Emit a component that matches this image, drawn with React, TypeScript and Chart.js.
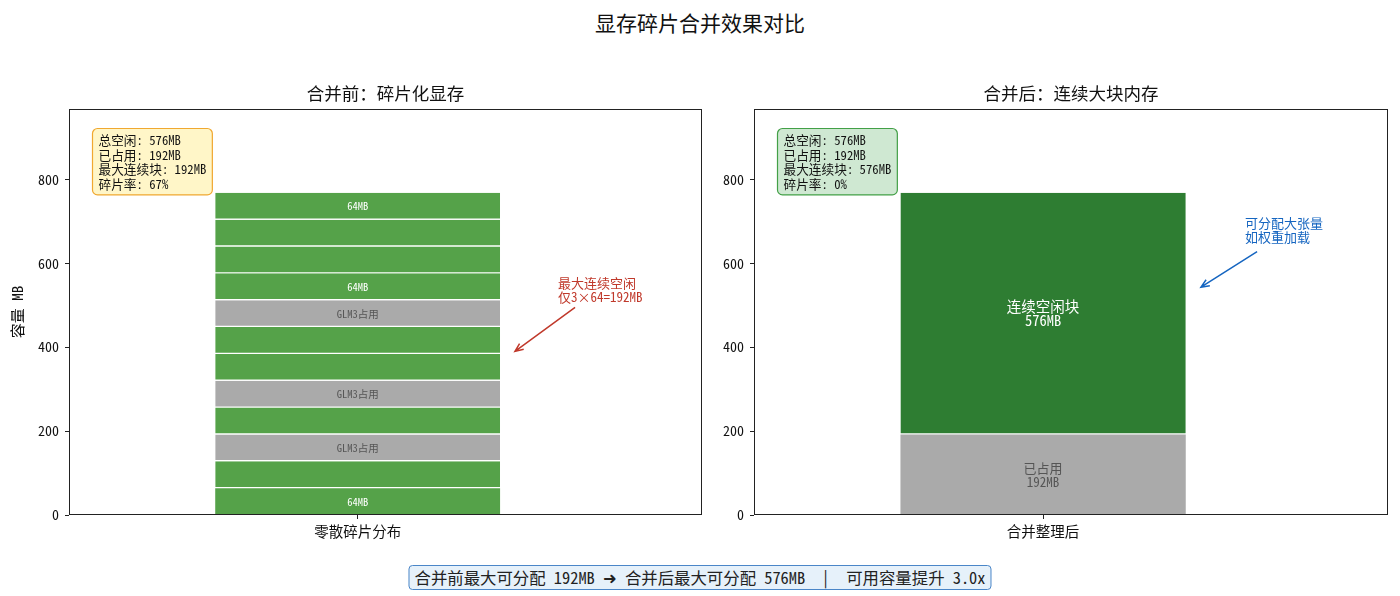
import React, { useEffect, useRef } from 'react';
import { Chart, registerables } from 'chart.js';

Chart.register(...registerables);

const FONT = '"Noto Sans Mono CJK SC", "Noto Sans CJK SC", "Noto Sans", "DejaVu Sans", sans-serif';

// ---------- data ----------
const TITLE = '显存碎片合并效果对比';
const LEFT_TITLE = '合并前：碎片化显存';
const RIGHT_TITLE = '合并后：连续大块内存';
const Y_LABEL = '容量 MB';
const Y_TICKS = [0, 200, 400, 600, 800];
const Y_MAX = 967.68;
const X_MIN = -0.912;
const X_MAX = 1.088;
const BAR_WIDTH = 0.9;

const leftCategory = '零散碎片分布';
const leftBlockSizes = [64, 64, 64, 64, 64, 64, 64, 64, 64, 64, 64, 64];
const leftBlockKinds = ['free', 'free', 'used', 'free', 'used', 'free', 'free', 'used', 'free', 'free', 'free', 'free'];
const leftBlockLabels = ['64MB', '', 'GLM3占用', '', 'GLM3占用', '', '', 'GLM3占用', '64MB', '', '', '64MB'];
const leftStats = ['总空闲: 576MB', '已占用: 192MB', '最大连续块: 192MB', '碎片率: 67%'];
const leftNote = ['最大连续空闲', '仅3×64=192MB'];

const rightCategory = '合并整理后';
const rightSegments = [192, 576];
const rightKinds = ['used', 'bigfree'];
const rightSegmentLabels = [['已占用', '192MB'], ['连续空闲块', '576MB']];
const rightStats = ['总空闲: 576MB', '已占用: 192MB', '最大连续块: 576MB', '碎片率: 0%'];
const rightNote = ['可分配大张量', '如权重加载'];

const FOOTER = '合并前最大可分配 192MB ➜ 合并后最大可分配 576MB  |  可用容量提升 3.0x';

// ---------- styles ----------
const KIND_COLOR: Record<string, string> = { free: '#55A249', used: '#AAAAAA', bigfree: '#2E7D32' };
const KIND_TEXT: Record<string, string> = { free: '#FFFFFF', used: '#555555', bigfree: '#FFFFFF' };

type Note = { lines: string[]; color: string; text: [number, number]; tail: [number, number]; tip: [number, number] };
type PanelSpec = {
  title: string;
  category: string;
  sizes: number[];
  kinds: string[];
  labels: string[][];
  labelFont: number[];
  stats: string[];
  statsFill: string;
  statsStroke: string;
  note: Note;
  width: number;
  yAxisWidth: number;
  padRight: number;
  showYTitle: boolean;
};

const overlay = {
  id: 'overlay',
  afterDraw(chart: any, _args: any, opts: any) {
    const spec: PanelSpec = opts.spec;
    if (!spec) return;
    const { ctx, chartArea: a } = chart;
    const x = chart.scales.x;
    const y = chart.scales.y;
    ctx.save();
    // frame
    ctx.strokeStyle = '#222';
    ctx.lineWidth = 1;
    ctx.strokeRect(a.left + 0.5, a.top + 0.5, a.right - a.left - 1, a.bottom - a.top - 1);

    // subplot title
    ctx.fillStyle = '#111';
    ctx.font = `17.5px ${FONT}`;
    ctx.textAlign = 'center';
    ctx.textBaseline = 'middle';
    ctx.fillText(spec.title, (a.left + a.right) / 2, a.top - 16);

    // segment labels
    let cum = 0;
    const cx = x.getPixelForValue(0);
    spec.sizes.forEach((s, i) => {
      const lines = spec.labels[i];
      const mid = y.getPixelForValue(cum + s / 2);
      cum += s;
      if (!lines || !lines.length || !lines[0]) return;
      const fs = spec.labelFont[i];
      const lh = 14;
      ctx.font = `${fs}px ${FONT}`;
      ctx.fillStyle = KIND_TEXT[spec.kinds[i]];
      ctx.textAlign = 'center';
      ctx.textBaseline = 'middle';
      const start = mid - ((lines.length - 1) * lh) / 2;
      lines.forEach((t, k) => ctx.fillText(t, cx, start + k * lh));
    });

    // stats box
    ctx.font = `12.7px ${FONT}`;
    const lh = 14.6;
    const bw = Math.max(...spec.stats.map((t) => ctx.measureText(t).width)) + 12;
    const bh = spec.stats.length * lh + 8;
    const bx = a.left + 23.5;
    const by = a.top + 19.5;
    ctx.beginPath();
    ctx.roundRect(bx, by, bw, bh, 5);
    ctx.fillStyle = spec.statsFill;
    ctx.fill();
    ctx.strokeStyle = spec.statsStroke;
    ctx.lineWidth = 1.2;
    ctx.stroke();
    ctx.fillStyle = '#111';
    ctx.textAlign = 'left';
    ctx.textBaseline = 'middle';
    spec.stats.forEach((t, k) => ctx.fillText(t, bx + 6, by + 4.5 + lh / 2 + k * lh));

    // note with arrow
    const n = spec.note;
    ctx.fillStyle = n.color;
    ctx.font = `13px ${FONT}`;
    ctx.textAlign = 'left';
    ctx.textBaseline = 'middle';
    const tx = x.getPixelForValue(n.text[0]);
    const ty = y.getPixelForValue(n.text[1]);
    n.lines.forEach((t, k) => ctx.fillText(t, tx, ty + k * 14));
    const x1 = x.getPixelForValue(n.tail[0]);
    const y1 = y.getPixelForValue(n.tail[1]);
    const x2 = x.getPixelForValue(n.tip[0]);
    const y2 = y.getPixelForValue(n.tip[1]);
    ctx.strokeStyle = n.color;
    ctx.lineWidth = 1.5;
    ctx.beginPath();
    ctx.moveTo(x1, y1);
    ctx.lineTo(x2, y2);
    const ang = Math.atan2(y2 - y1, x2 - x1);
    const hl = 9;
    ctx.moveTo(x2 - hl * Math.cos(ang - 0.4), y2 - hl * Math.sin(ang - 0.4));
    ctx.lineTo(x2, y2);
    ctx.lineTo(x2 - hl * Math.cos(ang + 0.4), y2 - hl * Math.sin(ang + 0.4));
    ctx.stroke();
    ctx.restore();
  },
};

function Panel({ spec, left }: { spec: PanelSpec; left: number }) {
  const ref = useRef<HTMLCanvasElement>(null);
  useEffect(() => {
    if (!ref.current) return;
    const datasets = spec.sizes.map((s, i) => ({
      label: spec.labels[i].join(' '),
      data: [{ x: 0, y: s }],
      backgroundColor: KIND_COLOR[spec.kinds[i]],
      borderColor: '#FFFFFF',
      borderWidth: { top: 0, bottom: i === 0 ? 0 : 1.2, left: 0, right: 0 },
      borderSkipped: false,
      categoryPercentage: 1,
      barPercentage: BAR_WIDTH / (X_MAX - X_MIN),
    }));
    const chart = new Chart(ref.current, {
      type: 'bar',
      data: { datasets },
      plugins: [overlay],
      options: {
        animation: false,
        responsive: false,
        devicePixelRatio: 1,
        layout: { padding: { top: 49, right: spec.padRight, bottom: 0, left: 0 } },
        plugins: {
          legend: { display: false },
          tooltip: { enabled: false },
          overlay: { spec },
        } as any,
        scales: {
          x: {
            type: 'linear',
            min: X_MIN,
            max: X_MAX,
            offset: false,
            stacked: true,
            afterBuildTicks: (s: any) => {
              s.ticks = [{ value: 0 }];
            },
            afterFit: (s: any) => {
              s.height = 35;
            },
            ticks: {
              callback: (v: any) => (v === 0 ? spec.category : ''),
              font: { family: FONT, size: 14.5 },
              color: '#111',
              padding: 4,
              maxRotation: 0,
            },
            grid: { display: true, offset: false, drawOnChartArea: false, drawTicks: true, tickLength: 4, tickColor: '#222' },
            border: { display: false },
          },
          y: {
            type: 'linear',
            min: 0,
            max: Y_MAX,
            stacked: true,
            afterBuildTicks: (s: any) => {
              s.ticks = Y_TICKS.map((v) => ({ value: v }));
            },
            afterFit: (s: any) => {
              s.width = spec.yAxisWidth;
            },
            ticks: {
              font: { family: FONT, size: 14 },
              color: '#111',
              padding: 6,
            },
            title: {
              display: spec.showYTitle,
              text: Y_LABEL,
              font: { family: FONT, size: 15 },
              color: '#111',
              padding: { top: 8, bottom: 0 },
            },
            grid: { display: true, drawOnChartArea: false, drawTicks: true, tickLength: 4, tickColor: '#222' },
            border: { display: false },
          },
        },
      } as any,
    });
    return () => chart.destroy();
  }, [spec]);
  return (
    <canvas
      ref={ref}
      width={spec.width}
      height={490}
      style={{ position: 'absolute', left, top: 60, width: spec.width, height: 490, display: 'block' }}
    />
  );
}

const leftSpec: PanelSpec = {
  title: LEFT_TITLE,
  category: leftCategory,
  sizes: leftBlockSizes,
  kinds: leftBlockKinds,
  labels: leftBlockLabels.map((t) => (t ? [t] : [])),
  labelFont: leftBlockSizes.map(() => 10.5),
  stats: leftStats,
  statsFill: '#FFF6C8',
  statsStroke: '#F0A830',
  note: { lines: leftNote, color: '#C0392B', text: [0.633, 552], tail: [0.687, 495], tip: [0.497, 390] },
  width: 710,
  yAxisWidth: 69,
  padRight: 8,
  showYTitle: true,
};

const rightSpec: PanelSpec = {
  title: RIGHT_TITLE,
  category: rightCategory,
  sizes: rightSegments,
  kinds: rightKinds,
  labels: rightSegmentLabels,
  labelFont: [13, 14.5],
  stats: rightStats,
  statsFill: '#CFE8D2',
  statsStroke: '#43A047',
  note: { lines: rightNote, color: '#1565C0', text: [0.637, 697], tail: [0.675, 628], tip: [0.498, 543] },
  width: 700,
  yAxisWidth: 54,
  padRight: 12,
  showYTitle: false,
};

export default function App() {
  return (
    <div
      style={{
        position: 'fixed',
        left: 0,
        top: 0,
        width: 1400,
        height: 596,
        background: '#fff',
        fontFamily: FONT,
        overflow: 'hidden',
      }}
    >
      <div
        style={{
          position: 'absolute',
          top: 8,
          left: 0,
          width: 1400,
          textAlign: 'center',
          fontSize: 21,
          lineHeight: '28px',
          color: '#111',
        }}
      >
        {TITLE}
      </div>
      <Panel spec={leftSpec} left={0} />
      <Panel spec={rightSpec} left={700} />
      <div
        style={{
          position: 'absolute',
          top: 565,
          left: 700,
          transform: 'translateX(-50%)',
          height: 25,
          boxSizing: 'border-box',
          border: '1.5px solid #4A86C8',
          borderRadius: 4,
          background: '#E6F1FA',
          fontSize: 16.4,
          lineHeight: '22px',
          padding: '0 5px',
          whiteSpace: 'pre',
          color: '#222',
        }}
      >
        {FOOTER}
      </div>
    </div>
  );
}
